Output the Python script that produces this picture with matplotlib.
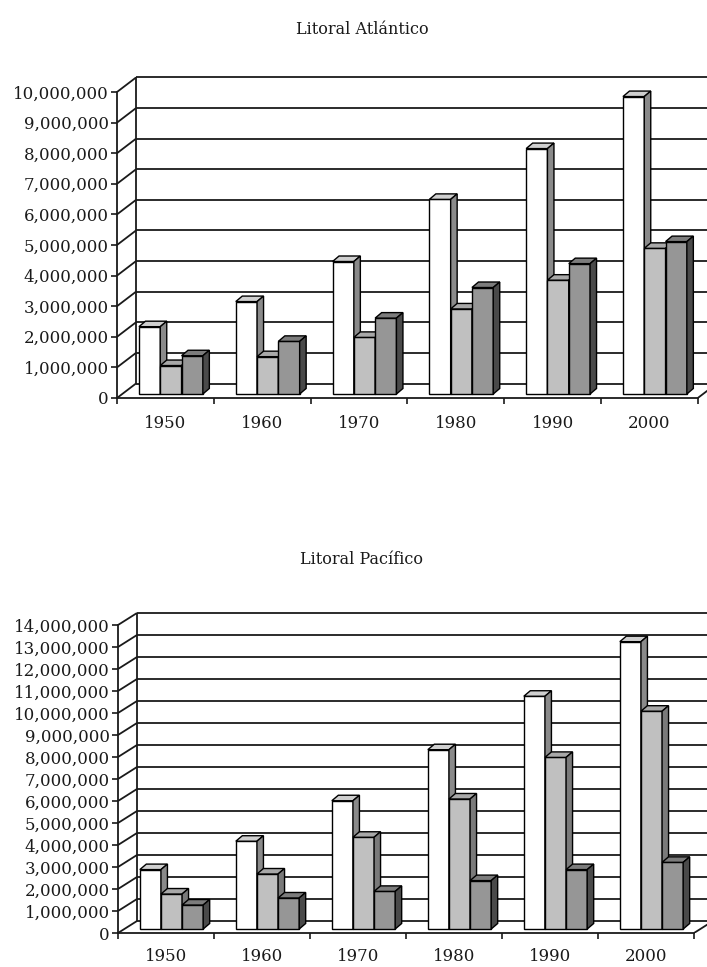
import matplotlib
matplotlib.use("Agg")
import matplotlib.pyplot as plt
from matplotlib.patches import Polygon, Rectangle
from matplotlib.ticker import FuncFormatter, FixedLocator

years = ["1950", "1960", "1970", "1980", "1990", "2000"]

# Litoral Atlántico
atl_a = [2200000, 3020000, 4330000, 6360000, 8020000, 9720000]
atl_b = [930000, 1220000, 1850000, 2780000, 3720000, 4760000]
atl_c = [1250000, 1720000, 2480000, 3480000, 4260000, 4980000]

# Litoral Pacífico
pac_a = [2700000, 3990000, 5830000, 8150000, 10580000, 13060000]
pac_b = [1590000, 2500000, 4170000, 5910000, 7800000, 9900000]
pac_c = [1090000, 1410000, 1710000, 2200000, 2700000, 3030000]

W, H = 707, 967
plt.rcParams["font.family"] = "DejaVu Serif"

fig = plt.figure(figsize=(W / 100, H / 100), dpi=100)

face_cols = ["#ffffff", "#c0c0c0", "#969696"]
top_cols = ["#cfcfcf", "#a8a8a8", "#7c7c7c"]
side_cols = ["#8a8a8a", "#7a7a7a", "#4a4a4a"]


def panel(series, ymax, left, base, top, ppc, ppu, wall, title, title_y, xpad):
    ax = fig.add_axes([left / W, (H - base) / H, (W - left) / W, (base - top) / H])
    ncat = len(years)
    ax.set_xlim(0, (W - left) / ppc)
    ax.set_ylim(0, (base - top) / ppu * 1e6)
    ax.patch.set_visible(False)

    # pixel offsets -> data offsets
    wx, wy = wall[0] / ppc, wall[1] / ppu * 1e6
    bx, by = 5.5 / ppc, 4.0 / ppu * 1e6
    dx, dy = 6.5 / ppc, 5.5 / ppu * 1e6

    ticks = list(range(0, ymax + 1, 1000000))
    lk = dict(color="#1a1a1a", lw=1.3, solid_capstyle="butt", zorder=1)
    # back wall and left side wall
    for v in ticks:
        ax.plot([wx, ax.get_xlim()[1]], [v + wy, v + wy], **lk)
        ax.plot([0, wx], [v, v + wy], clip_on=False, **lk)
    ax.plot([wx, wx], [wy, ymax + wy], clip_on=False, **lk)
    # floor right edge
    ax.plot([ncat, ncat + wx], [0, wy], **lk)

    bw = 0.22
    g0 = 0.17
    for j, vals in enumerate(series):
        for i, v in enumerate(vals):
            x0 = i + g0 + j * bw + bx
            ax.add_patch(Rectangle((x0, by), bw, v, fc=face_cols[j], ec="black",
                                   lw=1.0, zorder=3))
            ax.add_patch(Polygon([(x0, by + v), (x0 + bw, by + v),
                                  (x0 + bw + dx, by + v + dy), (x0 + dx, by + v + dy)],
                                 closed=True, fc=top_cols[j], ec="black", lw=1.0, zorder=3))
            ax.add_patch(Polygon([(x0 + bw, by), (x0 + bw + dx, by + dy),
                                  (x0 + bw + dx, by + v + dy), (x0 + bw, by + v)],
                                 closed=True, fc=side_cols[j], ec="black", lw=1.0, zorder=3))

    for s in ["top", "right"]:
        ax.spines[s].set_visible(False)
    ax.spines["left"].set_bounds(0, ymax)
    ax.spines["bottom"].set_bounds(0, ncat)
    for s in ["left", "bottom"]:
        ax.spines[s].set_linewidth(1.3)
        ax.spines[s].set_color("#1a1a1a")
        ax.spines[s].set_zorder(4)

    ax.yaxis.set_major_locator(FixedLocator(ticks))
    ax.yaxis.set_major_formatter(FuncFormatter(lambda v, p: f"{v:,.0f}"))
    ax.tick_params(axis="y", direction="out", length=4, width=1.2, pad=2,
                   labelsize=12, colors="#1a1a1a")

    ax.xaxis.set_major_locator(FixedLocator(range(ncat + 1)))
    ax.xaxis.set_minor_locator(FixedLocator([i + 0.5 for i in range(ncat)]))
    ax.set_xticklabels([], minor=False)
    ax.set_xticklabels(years, minor=True)
    ax.tick_params(axis="x", which="major", direction="out", length=4, width=1.2,
                   colors="#1a1a1a")
    ax.tick_params(axis="x", which="minor", length=0, pad=xpad, labelsize=12,
                   colors="#1a1a1a")

    fig.text(362 / W, 1 - title_y / H, title, ha="center", va="center",
             fontsize=11.5, color="#1a1a1a")
    return ax


panel([atl_a, atl_b, atl_c], 10000000, 117, 398, 60, 96.8, 30.6, (19, 14.5),
      "Litoral Atlántico", 30, 12.5)
panel([pac_a, pac_b, pac_c], 14000000, 118, 933, 595, 96.0, 22.0, (19, 12),
      "Litoral Pacífico", 560, 11)

fig.savefig("out.png", dpi=100, facecolor="white")
